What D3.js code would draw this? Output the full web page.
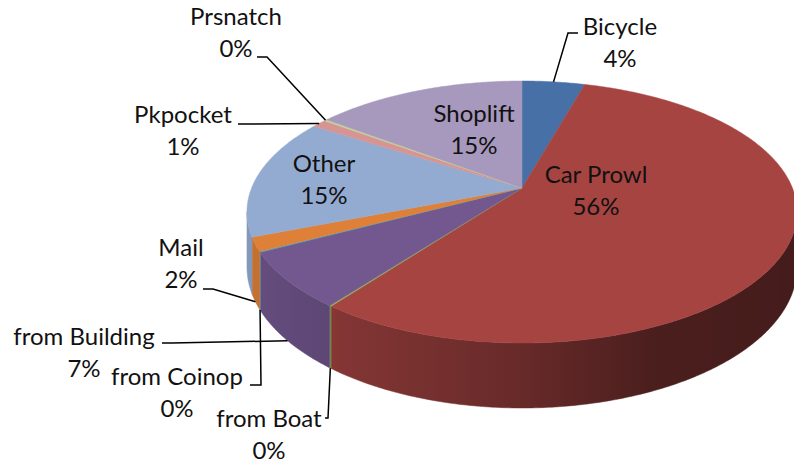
<!DOCTYPE html>
<html>
<head>
  <title>Theft by type</title>
  <script src="https://d3js.org/d3.v7.min.js"></script>
  <style>
    body { margin: 0; background: #fff; }
    text { font-family: Lato, "Noto Sans", sans-serif; fill: #111; }
  </style>
</head>
<body>
  <div id="chart"></div>

  <script>
    // data (pie goes clockwise from 12 o'clock)
    var categories = ["Bicycle", "Car Prowl", "from Boat", "from Building", "from Coinop",
                      "Mail", "Other", "Pkpocket", "Prsnatch", "Shoplift"];
    var shares = [4.4, 55.9, 0.1, 6.9, 0.1, 1.7, 14.9, 1.0, 0.2, 14.8];
    var colors = ["#4670A6", "#A64442", "#8FAF52", "#735890", "#44A0B8",
                  "#DE8038", "#94ABD1", "#D69593", "#BFD596", "#A798BD"];

    // where Excel put the labels (centre x, first baseline) and the leader elbows
    var labelAt = {
      "Bicycle": [620, 35], "Car Prowl": [596, 183], "from Boat": [269, 427],
      "from Building": [84, 345], "from Coinop": [177, 385], "Mail": [181, 256],
      "Other": [324, 172], "Pkpocket": [183, 123], "Prsnatch": [236, 25], "Shoplift": [474, 122]
    };
    var leaders = {
      "Bicycle": [[578, 33], [568, 33]],
      "from Boat": [[325, 418], [328, 418]],
      "from Building": [[162, 343], [172, 343]],
      "from Coinop": [[250, 385], [261, 385]],
      "Mail": [[203, 289], [213, 289]],
      "Pkpocket": [[238, 124], [248, 124]],
      "Prsnatch": [[257, 57], [267, 57]]
    };

    var width = 794, height = 465;
    var svg = d3.select("#chart").append("svg")
      .attr("width", width)
      .attr("height", height);
    var defs = svg.append("defs");

    // perspective disk: centre, half axes, perspective factor, thickness
    var cx = 522, cy = 188, A = 270.4, B = 126.6, k = 0.1832, T = 53.1;

    function proj(a, h) {
      var u = Math.sin(a), v = Math.cos(a), den = 1 + k * v;
      return [cx + A * u / den, cy + (-B * v + T * h) / den];
    }

    function rim(a0, a1, h) {
      var n = Math.max(1, Math.ceil((a1 - a0) / 0.01));
      return d3.range(n + 1).map(function(i) { return proj(a0 + (a1 - a0) * i / n, h); });
    }

    var total = d3.sum(shares);
    var pct = d3.format(".0%");
    var arcs = d3.pie().sort(null).value(function(d) { return d; })(shares);
    var line = d3.line();

    // side walls, only the part facing us, lit from the left
    var aL = Math.acos(-k), aR = 2 * Math.PI - aL;
    var xLeft = proj(aR, 0)[0], xRight = proj(aL, 0)[0];
    var shade = d3.scaleLinear()
      .domain([-1, -0.7, 0, 0.4, 1])
      .range([0.9, 0.83, 0.62, 0.45, 0.41])
      .clamp(true);

    var walls = svg.append("g");
    arcs.forEach(function(d, i) {
      var s = Math.max(d.startAngle, aL), e = Math.min(d.endAngle, aR);
      if (e <= s) return;
      var c = d3.rgb(colors[i]);
      var grad = defs.append("linearGradient")
        .attr("id", "wall" + i)
        .attr("gradientUnits", "userSpaceOnUse")
        .attr("x1", xLeft).attr("x2", xRight)
        .attr("y1", 0).attr("y2", 0);
      d3.range(aR, aL - 0.001, -0.05).forEach(function(a) {
        var f = shade(Math.sin(a));
        grad.append("stop")
          .attr("offset", (proj(a, 0)[0] - xLeft) / (xRight - xLeft))
          .attr("stop-color", d3.rgb(c.r * f, c.g * f, c.b * f).formatHex());
      });
      var pts = rim(s, e, 0).concat(rim(s, e, 1).reverse());
      walls.append("path")
        .attr("d", line(pts) + "Z")
        .attr("fill", "url(#wall" + i + ")")
        .attr("stroke", "url(#wall" + i + ")")
        .attr("stroke-width", 0.5);
    });

    // top faces
    svg.append("g").selectAll("path")
      .data(arcs)
      .enter()
      .append("path")
      .attr("d", function(d) {
        return line([[cx, cy]].concat(rim(d.startAngle, d.endAngle, 0))) + "Z";
      })
      .attr("fill", function(d, i) { return colors[i]; })
      .attr("stroke", function(d, i) { return colors[i]; })
      .attr("stroke-width", 0.5);

    // leader lines: label elbow -> rim of the slice (top rim at the back, bottom rim at the front)
    arcs.forEach(function(d, i) {
      var name = categories[i];
      if (!leaders[name]) return;
      var mid = (d.startAngle + d.endAngle) / 2;
      var anchor = proj(mid, Math.cos(mid) >= 0 ? 0 : 1);
      svg.append("path")
        .attr("d", line(leaders[name].concat([anchor])))
        .attr("fill", "none")
        .attr("stroke", "#000")
        .attr("stroke-width", 1.5);
    });

    // labels
    arcs.forEach(function(d, i) {
      var name = categories[i], p = labelAt[name];
      var t = svg.append("text")
        .attr("text-anchor", "middle")
        .attr("font-size", 24);
      t.append("tspan").attr("x", p[0]).attr("y", p[1]).text(name);
      t.append("tspan").attr("x", p[0]).attr("y", p[1] + 32).text(pct(d.data / total));
    });
  </script>
</body>
</html>
